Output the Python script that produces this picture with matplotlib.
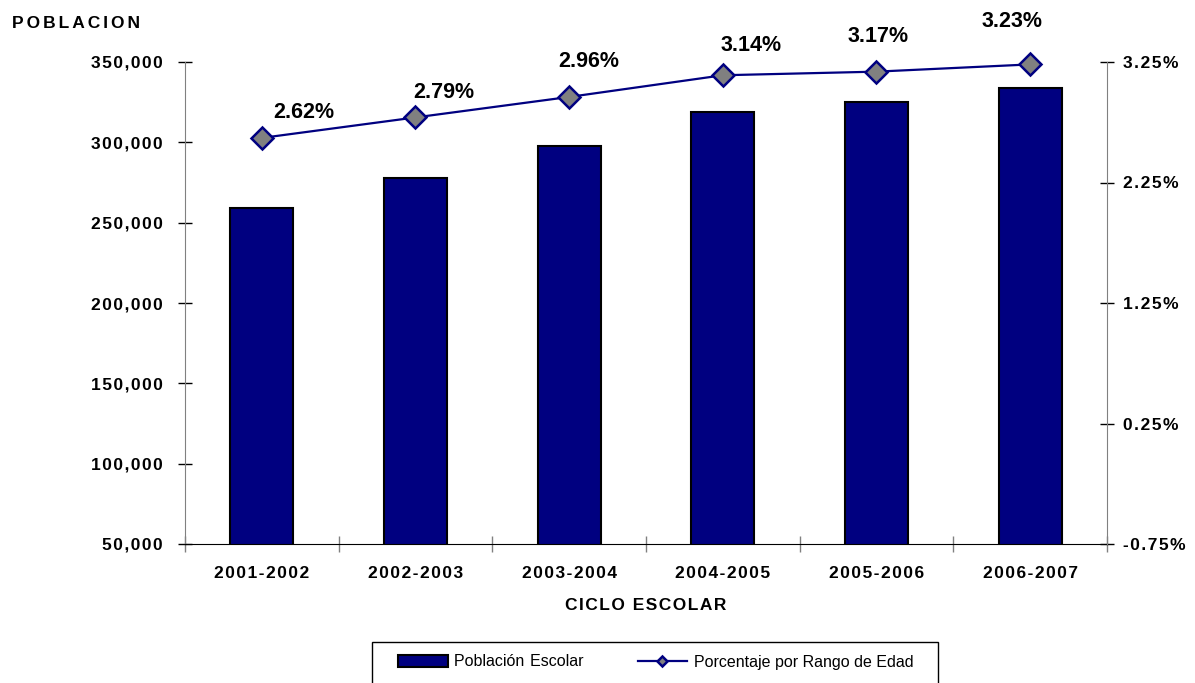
import numpy as np
import matplotlib
matplotlib.use('Agg')
from matplotlib import pyplot as plt
from matplotlib.ticker import FuncFormatter, FixedLocator
from matplotlib.patches import Rectangle

plt.rcParams['font.family'] = ['Liberation Sans', 'DejaVu Sans']

ciclos = ['2001-2002', '2002-2003', '2003-2004', '2004-2005', '2005-2006', '2006-2007']
poblacion = [259300, 277600, 297700, 318900, 324900, 333600]
porcentaje = [2.62, 2.79, 2.96, 3.14, 3.17, 3.23]

# label offsets in pixels (dx, dy) relative to each marker
offsets = [(42, 25), (28, 25), (20, 35), (28, 30), (2, 35), (-18, 43)]

navy = '#000080'
gray = '#808080'

def spaced(s, sep='\u200a'):
    # fake the letter spacing of the original chart
    return sep.join(s)

fig = plt.figure(figsize=(11.95, 6.83), dpi=100)
ax = fig.add_axes([185/1195, 1-544/683, (1107-185)/1195, (544-62)/683])

x = np.arange(len(ciclos))
ax.bar(x, poblacion, width=0.41, color=navy, edgecolor='black', linewidth=1.5,
       bottom=0, zorder=2, label='Población \u200aEscolar')
ax.set_xlim(-0.5, 5.5)
ax.set_ylim(50000, 350000)
ax.set_yticks(np.arange(50000, 350001, 50000))
ax.yaxis.set_major_formatter(FuncFormatter(lambda v, p: spaced('{:,.0f}'.format(v))))
ax.set_xticks(x)
ax.set_xticklabels([spaced(c) for c in ciclos])
ax.xaxis.set_minor_locator(FixedLocator(np.arange(-0.5, 6, 1)))
ax.tick_params(axis='x', which='major', length=0, pad=15.5)
ax.tick_params(axis='x', which='minor', direction='inout', length=12, color=gray, width=1)
ax.tick_params(axis='y', direction='inout', length=10, color='black', width=1, pad=11)
for lab in ax.get_xticklabels() + ax.get_yticklabels():
    lab.set_fontsize(12.5)
    lab.set_fontweight('bold')

for s in ['top', 'right']:
    ax.spines[s].set_visible(False)
ax.spines['left'].set_color(gray)
ax.spines['bottom'].set_color('black')

ax2 = ax.twinx()
ax2.plot(x, porcentaje, color=navy, linewidth=1.6, marker='D', markersize=11,
         markerfacecolor=gray, markeredgecolor=navy, markeredgewidth=1.8,
         zorder=3, clip_on=False, label='Porcentaje por Rango de Edad')
ax2.set_ylim(-0.75, 3.25)
ax2.set_yticks([-0.75, 0.25, 1.25, 2.25, 3.25])
ax2.yaxis.set_major_formatter(FuncFormatter(lambda v, p: spaced('%.2f%%' % v)))
ax2.tick_params(axis='y', direction='inout', length=10, color='black', width=1, pad=6.5)
for lab in ax2.get_yticklabels():
    lab.set_fontsize(12.5)
    lab.set_fontweight('bold')
for s in ['top', 'left', 'bottom']:
    ax2.spines[s].set_visible(False)
ax2.spines['right'].set_color(gray)

for xi, p, (dx, dy) in zip(x, porcentaje, offsets):
    ax2.annotate('%.2f%%' % p, (xi, p), xytext=(dx*0.72, dy*0.72),
                 textcoords='offset points', ha='center', va='center',
                 fontsize=15.5, fontweight='bold')

ax.set_xlabel(spaced('CICLO ESCOLAR'), fontsize=12.5, fontweight='bold', labelpad=12.5)
fig.text(12/1195, 1-24/683, spaced('POBLACION', '\u200a\u200a'), fontsize=12.5,
         fontweight='bold', ha='left', va='center')

# legend box
fig.patches.append(Rectangle((372/1195, 1-700/683), (938-372)/1195, 58/683,
                             transform=fig.transFigure, fill=False,
                             edgecolor='black', linewidth=1))
h1, l1 = ax.get_legend_handles_labels()
h2, l2 = ax2.get_legend_handles_labels()
leg = fig.legend(h1 + h2, l1 + l2, loc='center left', ncol=2,
                 bbox_to_anchor=(398/1195, 1-662/683), fontsize=11.5,
                 frameon=False, borderpad=0, borderaxespad=0,
                 handlelength=3.1, handletextpad=0.4, columnspacing=3.4,
                 markerscale=0.5)

fig.savefig('out.png', dpi=100)
